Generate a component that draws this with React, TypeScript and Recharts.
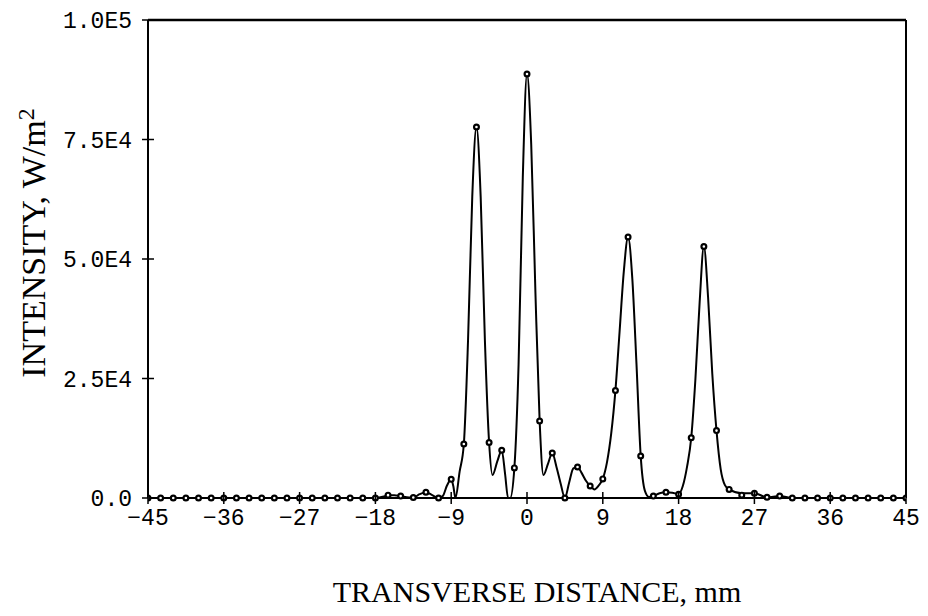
import React from 'react';
import { ComposedChart, Line, Scatter, XAxis, YAxis, ReferenceLine } from 'recharts';

// Sampled points (markers), every 1.5 mm
const markerX = [
  -45, -43.5, -42, -40.5, -39, -37.5, -36, -34.5, -33, -31.5, -30, -28.5, -27, -25.5, -24, -22.5, -21, -19.5, -18,
  -16.5, -15, -13.5, -12, -10.5, -9, -7.5, -6, -4.5, -3, -1.5, 0, 1.5, 3, 4.5, 6, 7.5, 9, 10.5, 12, 13.5, 15, 16.5,
  18, 19.5, 21, 22.5, 24, 25.5, 27, 28.5, 30, 31.5, 33, 34.5, 36, 37.5, 39, 40.5, 42, 43.5, 45,
];
const markerY = [
  0, 0, 0, 0, 0, 0, 0, 0, 0, 0, 0, 0, 0, 0, 0, 0, 0, 0, 0,
  600, 400, 100, 1200, 0, 3900, 11300, 77600, 11600, 10000, 6300, 88700, 16100, 9400, 0, 6500, 2500, 4000, 22500,
  54600, 8800, 400, 1200, 800, 12600, 52600, 14100, 1800, 600, 1000, 150, 400, 0, 0, 0, 0, 0, 0, 0, 0, 0, 0,
];

// Continuous intensity curve
const curveX = [
  -45, -18, -17, -16.5, -15.75, -15, -14, -13.5, -12.75, -12, -11.25, -10.5, -10, -9.5, -9, -8.75, -8.5, -8, -7.5,
  -7, -6.5, -6, -5.5, -5, -4.5, -4.1, -3.5, -3, -2.6, -2.25, -2, -1.5, -1, -0.5, 0, 0.5, 1, 1.5, 1.95, 2.5, 3, 3.5,
  4, 4.5, 5, 5.5, 6, 6.5, 7, 7.5, 8, 8.5, 9, 9.5, 10, 10.5, 11, 11.5, 12, 12.5, 13, 13.5, 14, 14.5, 15, 15.75, 16.5,
  17.25, 18, 18.5, 19, 19.5, 20, 20.5, 21, 21.5, 22, 22.5, 23, 23.5, 24, 25.5, 27, 28.5, 30, 31.5, 45,
];
const curveY = [
  0, 0, 300, 600, 600, 400, 100, 100, 800, 1200, 600, 0, 400, 2600, 3900, 2500, 0, 5500, 11300,
  33000, 63000, 77600, 63000, 33000, 11600, 4800, 7800, 10000, 5000, 0, 0, 6300, 28000, 67000, 88700, 74000, 43000, 16100, 4800, 7200, 9400, 6500,
  3000, 0, 3200, 6200, 6500, 5200, 3600, 2500, 1800, 2600, 4000, 7500, 13500, 22500, 35000, 47500, 54600, 46000, 28000, 8800, 1500, 200, 400, 1000, 1200,
  1100, 800, 2500, 6500, 12600, 25000, 41000, 52600, 42000, 26000, 14100, 6000, 2700, 1800, 1000, 1000, 150, 400, 0, 0,
];

const xTicks = [-45, -36, -27, -18, -9, 0, 9, 18, 27, 36, 45];
const yTicks = [0, 25000, 50000, 75000, 100000];
const yTickLabels = ['0.0', '2.5E4', '5.0E4', '7.5E4', '1.0E5'];

const markerData = markerX.map((x, i) => ({ x, y: markerY[i] }));
const curveData = curveX.map((x, i) => ({ x, y: curveY[i] }));

const W = 920;
const H = 600;
const PLOT_LEFT = 140;
const PLOT_BOTTOM = 490;
const TICK_FONT = '"Liberation Mono", "DejaVu Sans Mono", monospace';
const TITLE_FONT = '"Liberation Serif", "DejaVu Serif", serif';

const fmtX = (v: number) => (v < 0 ? '\u2212' + Math.abs(v) : String(v));

const XTick = (props: any) => {
  const { x, payload } = props;
  return (
    <g>
      <line x1={x} x2={x} y1={PLOT_BOTTOM - 6} y2={PLOT_BOTTOM + 6} stroke="#000" strokeWidth={1.5} />
      <text x={x} y={PLOT_BOTTOM + 27} textAnchor="middle" fontFamily={TICK_FONT} fontSize={23} fill="#000">
        {fmtX(payload.value)}
      </text>
    </g>
  );
};

const YTick = (props: any) => {
  const { y, payload } = props;
  const idx = yTicks.indexOf(payload.value);
  return (
    <g>
      <line x1={PLOT_LEFT - 6} x2={PLOT_LEFT + 6} y1={y} y2={y} stroke="#000" strokeWidth={1.5} />
      <text x={PLOT_LEFT - 16} y={y} dy="0.35em" textAnchor="end" fontFamily={TICK_FONT} fontSize={23} fill="#000">
        {yTickLabels[idx]}
      </text>
    </g>
  );
};

const Marker = (props: any) => {
  const { cx, cy } = props;
  if (cx == null || cy == null) return null;
  return <circle cx={cx} cy={cy} r={2.4} fill="#fff" stroke="#000" strokeWidth={2.2} />;
};

export default function App() {
  return (
    <div style={{ position: 'relative', width: W, height: H }}>
      <ComposedChart width={W} height={H} margin={{ top: 12, right: 22, bottom: 80, left: 80 }}>
        <XAxis
          dataKey="x"
          type="number"
          domain={[-45, 45]}
          ticks={xTicks}
          allowDataOverflow
          height={30}
          axisLine={{ stroke: '#000', strokeWidth: 2 }}
          tickLine={false}
          tick={<XTick />}
          interval={0}
        />
        <YAxis
          type="number"
          domain={[0, 100000]}
          ticks={yTicks}
          width={60}
          axisLine={{ stroke: '#000', strokeWidth: 2 }}
          tickLine={false}
          tick={<YTick />}
          interval={0}
        />
        <ReferenceLine y={100000} stroke="#000" strokeWidth={2.5} />
        <ReferenceLine x={45} stroke="#000" strokeWidth={2} />
        <Line
          data={curveData}
          dataKey="y"
          type="monotone"
          stroke="#000"
          strokeWidth={2}
          dot={false}
          activeDot={false}
          isAnimationActive={false}
        />
        <Scatter data={markerData} dataKey="y" shape={<Marker />} isAnimationActive={false} />
      </ComposedChart>
      <svg
        width={W}
        height={H}
        style={{ position: 'absolute', left: 0, top: 0, pointerEvents: 'none' }}
      >
        <text
          x={529}
          y={594}
          textAnchor="middle"
          fontFamily={TITLE_FONT}
          fontSize={30}
          fill="#000"
        >
          TRANSVERSE DISTANCE, mm
        </text>
        <text
          x={37}
          y={235}
          transform="rotate(-90, 37, 235)"
          textAnchor="middle"
          fontFamily={TITLE_FONT}
          fontSize={34}
          fill="#000"
        >
          INTENSITY, W/m
          <tspan dy="-0.45em" fontSize={24}>2</tspan>
        </text>
      </svg>
    </div>
  );
}
